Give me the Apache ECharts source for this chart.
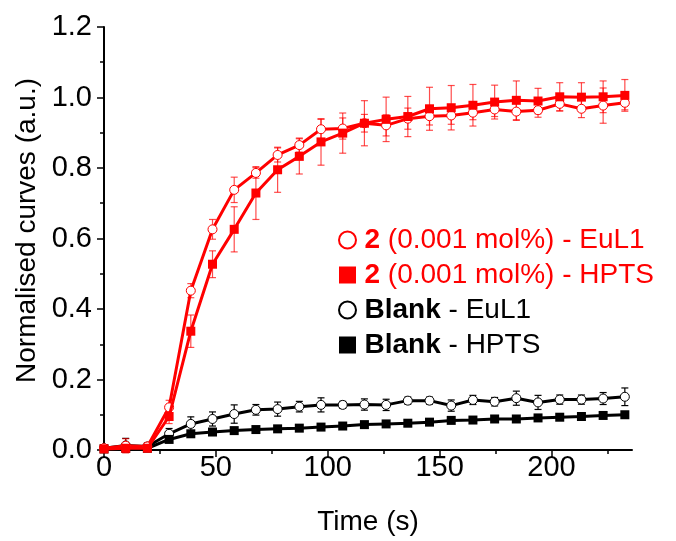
<!DOCTYPE html>
<html>
<head>
<meta charset="utf-8">
<script src="https://cdn.jsdelivr.net/npm/echarts@6/dist/echarts.min.js"></script>
<style>html,body{margin:0;padding:0;background:#fff}#c{width:676px;height:541px}</style>
</head>
<body>
<div id="c"></div>
<script>
var time = [0, 9.7, 19.4, 29.1, 38.8, 48.5, 58.2, 67.9, 77.6, 87.3, 97, 106.7, 116.4, 126.1, 135.8, 145.5, 155.2, 164.9, 174.6, 184.3, 194, 203.7, 213.4, 223.1, 232.8];

var red_EuL1 = [0.005, 0.012, 0.01, 0.121, 0.452, 0.626, 0.738, 0.786, 0.837, 0.865, 0.91, 0.912, 0.927, 0.921, 0.94, 0.947, 0.949, 0.957, 0.966, 0.96, 0.964, 0.982, 0.968, 0.977, 0.985];
var red_EuL1_err = [0.01, 0.02, 0.01, 0.02, 0.02, 0.028, 0.036, 0.015, 0.02, 0.02, 0.028, 0.03, 0.025, 0.03, 0.03, 0.025, 0.025, 0.02, 0.02, 0.025, 0.02, 0.02, 0.025, 0.05, 0.02];

var red_HPTS = [0.003, 0.005, 0.005, 0.095, 0.337, 0.527, 0.626, 0.729, 0.795, 0.833, 0.874, 0.899, 0.927, 0.938, 0.946, 0.968, 0.971, 0.978, 0.987, 0.992, 0.99, 1.002, 1.001, 1.002, 1.006];
var red_HPTS_err = [0.01, 0.01, 0.01, 0.02, 0.046, 0.038, 0.064, 0.075, 0.064, 0.05, 0.066, 0.057, 0.064, 0.063, 0.057, 0.061, 0.063, 0.059, 0.048, 0.055, 0.036, 0.04, 0.041, 0.045, 0.045];

var blank_EuL1 = [0.005, 0.013, 0.01, 0.046, 0.074, 0.088, 0.102, 0.114, 0.116, 0.123, 0.128, 0.128, 0.129, 0.128, 0.14, 0.14, 0.126, 0.142, 0.137, 0.147, 0.135, 0.143, 0.143, 0.146, 0.151];
var blank_EuL1_err = [0.01, 0.02, 0.01, 0.015, 0.02, 0.02, 0.026, 0.015, 0.02, 0.015, 0.02, 0.01, 0.016, 0.016, 0.01, 0.01, 0.016, 0.013, 0.012, 0.02, 0.02, 0.013, 0.013, 0.017, 0.025];

var blank_HPTS = [0.003, 0.005, 0.005, 0.03, 0.046, 0.051, 0.055, 0.058, 0.06, 0.062, 0.065, 0.068, 0.072, 0.074, 0.076, 0.079, 0.084, 0.085, 0.088, 0.088, 0.091, 0.093, 0.095, 0.098, 0.1];
var blank_HPTS_err = [0.004, 0.004, 0.004, 0.006, 0.006, 0.006, 0.006, 0.006, 0.006, 0.006, 0.006, 0.006, 0.006, 0.006, 0.006, 0.006, 0.006, 0.006, 0.006, 0.006, 0.006, 0.006, 0.006, 0.006, 0.006];

var xMajorTicks = [0, 50, 100, 150, 200];
var xMinorTicks = [25, 75, 125, 175, 225];

var names = ['2 (0.001 mol%) - EuL1', '2 (0.001 mol%) - HPTS', 'Blank - EuL1', 'Blank - HPTS'];

var FONT = '"Liberation Sans", Arial, sans-serif';
var RED = '#ff0000';
var SQUARE = 'path://M0 0H10V10H0Z';

function pts(ys) { return time.map(function (t, i) { return [t, ys[i]]; }); }
function errPts(ys, es) { return time.map(function (t, i) { return [t, ys[i], es[i]]; }); }

function errSeries(ys, es, color, z) {
  return {
    type: 'custom',
    silent: true,
    z: z,
    data: errPts(ys, es),
    encode: { x: 0, y: 1 },
    renderItem: function (params, api) {
      var x = api.value(0), y = api.value(1), e = api.value(2);
      var top = api.coord([x, y + e]);
      var bot = api.coord([x, y - e]);
      var w = 3.5;
      var st = { stroke: color, lineWidth: 1.2 };
      return {
        type: 'group',
        children: [
          { type: 'line', shape: { x1: top[0], y1: top[1], x2: bot[0], y2: bot[1] }, style: st },
          { type: 'line', shape: { x1: top[0] - w, y1: top[1], x2: top[0] + w, y2: top[1] }, style: st },
          { type: 'line', shape: { x1: bot[0] - w, y1: bot[1], x2: bot[0] + w, y2: bot[1] }, style: st }
        ]
      };
    }
  };
}

function lineSeries(name, ys, color, symbol, z) {
  var empty = symbol === 'circle-empty';
  return {
    name: name,
    type: 'line',
    z: z,
    data: pts(ys),
    symbol: empty ? 'circle' : 'rect',
    symbolSize: 9,
    showAllSymbol: true,
    lineStyle: { color: color, width: 3 },
    itemStyle: empty ? { color: '#fff', borderColor: color, borderWidth: 1 } : { color: color, borderWidth: 0 },
    emphasis: { disabled: true },
    animation: false
  };
}

var chart = echarts.init(document.getElementById('c'), null, { renderer: 'canvas' });
chart.setOption({
  animation: false,
  backgroundColor: '#fff',
  textStyle: { fontFamily: FONT },
  grid: { left: 104, right: 44, top: 27, bottom: 88 },
  xAxis: [{
    type: 'value',
    min: 0, max: 236,
    name: 'Time (s)',
    nameLocation: 'middle',
    nameGap: 58,
    nameTextStyle: { fontSize: 28, color: '#000', fontFamily: FONT },
    axisLine: { show: true, lineStyle: { color: '#000', width: 2 } },
    axisTick: { show: true, inside: false, length: 7, lineStyle: { color: '#000', width: 1.5 }, customValues: xMajorTicks },
    axisLabel: { fontSize: 29, color: '#000', margin: 3, fontFamily: FONT, customValues: xMajorTicks },
    splitLine: { show: false }
  }, {
    type: 'value',
    min: 0, max: 236,
    position: 'bottom',
    axisLine: { show: false },
    axisTick: { show: true, inside: false, length: 4, lineStyle: { color: '#000', width: 1.5 }, customValues: xMinorTicks },
    axisLabel: { show: false },
    splitLine: { show: false }
  }],
  yAxis: {
    type: 'value',
    min: 0, max: 1.2, interval: 0.2,
    name: 'Normalised curves (a.u.)',
    nameLocation: 'middle',
    nameGap: 62,
    nameRotate: 90,
    nameTextStyle: { fontSize: 28, color: '#000', fontFamily: FONT, padding: [0, 0, 0, 16] },
    axisLine: { show: true, lineStyle: { color: '#000', width: 2 } },
    axisTick: { show: true, inside: false, length: 7, lineStyle: { color: '#000', width: 1.5 } },
    minorTick: { show: true, splitNumber: 2, length: 4, lineStyle: { color: '#000', width: 1.5 } },
    axisLabel: { fontSize: 29, color: '#000', margin: 12, fontFamily: FONT, formatter: function (v) { return v.toFixed(1); } },
    splitLine: { show: false }
  },
  legend: {
    orient: 'vertical',
    left: 333,
    top: 220,
    itemWidth: 24,
    itemHeight: 17,
    itemGap: 5,
    symbolKeepAspect: true,
    selectedMode: false,
    data: [
      { name: names[0], icon: 'emptyCircle', itemStyle: { color: RED, borderColor: RED, borderWidth: 1.2 } },
      { name: names[1], icon: SQUARE, itemStyle: { color: RED } },
      { name: names[2], icon: 'emptyCircle', itemStyle: { color: '#000', borderColor: '#000', borderWidth: 1.2 } },
      { name: names[3], icon: SQUARE, itemStyle: { color: '#000' } }
    ],
    textStyle: {
      fontSize: 28, fontFamily: FONT, lineHeight: 30,
      rich: {
        rb: { color: RED, fontWeight: 'bold', fontSize: 28, fontFamily: FONT },
        r: { color: RED, fontSize: 28, fontFamily: FONT },
        kb: { color: '#000', fontWeight: 'bold', fontSize: 28, fontFamily: FONT },
        k: { color: '#000', fontSize: 28, fontFamily: FONT }
      }
    },
    formatter: function (n) {
      if (n.indexOf('2 ') === 0) return '{rb|2} {r|' + n.slice(2) + '}';
      return '{kb|Blank} {k|' + n.slice(6) + '}';
    }
  },
  series: [
    errSeries(blank_EuL1, blank_EuL1_err, '#000', 1),
    errSeries(blank_HPTS, blank_HPTS_err, '#000', 1),
    lineSeries(names[2], blank_EuL1, '#000', 'circle-empty', 2),
    lineSeries(names[3], blank_HPTS, '#000', 'rect', 3),
    errSeries(red_EuL1, red_EuL1_err, 'rgba(255,0,0,0.7)', 4),
    errSeries(red_HPTS, red_HPTS_err, 'rgba(255,0,0,0.7)', 4),
    lineSeries(names[0], red_EuL1, RED, 'circle-empty', 5),
    lineSeries(names[1], red_HPTS, RED, 'rect', 6)
  ]
});
</script>
</body>
</html>
